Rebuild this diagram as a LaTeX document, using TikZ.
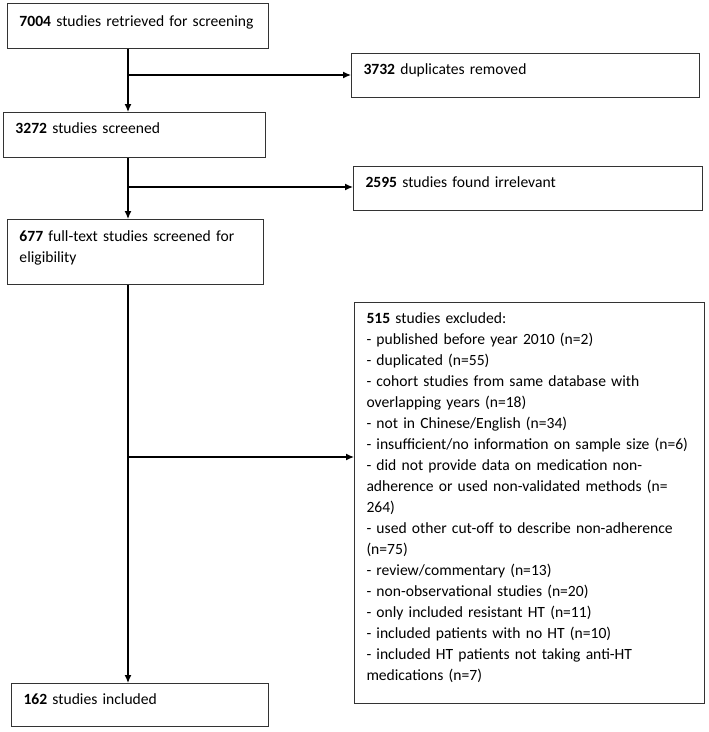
\documentclass[tikz,border=0pt]{standalone}
\usepackage{fontspec}
\setmainfont{Carlito}
\usetikzlibrary{arrows.meta}

\tikzset{
  stage/.style={draw=black!80, line width=1pt, anchor=north west, align=left,
    inner xsep=12pt, inner ysep=10pt, text height=11pt,
    font=\fontsize{15.6}{21}\selectfont},
  flow/.style={line width=1.3pt, -{Latex[length=8pt,width=7pt]}}
}

\begin{document}
\begin{tikzpicture}[x=1pt,y=-1pt]

\useasboundingbox (0,0) rectangle (709,732);

% Main stages
\node[stage, text width=237pt, text height=13pt, text depth=12pt] (retrieved) at (7,3) {\textbf{7004} studies retrieved for screening};
\node[stage, text width=238pt, text depth=14pt] (screened) at (3,112) {\textbf{3272} studies screened};
\node[stage, text width=232pt, text height=12pt, text depth=33pt] (fulltext) at (7,219) {\textbf{677} full-text studies screened for\\eligibility};
\node[stage, text width=233pt, text depth=12pt] (included) at (11,683) {\textbf{162} studies included};

% Removed at each stage
\node[stage, text width=324pt, text depth=13pt] (duplicates) at (351,53) {\textbf{3732} duplicates removed};
\node[stage, text width=325pt, text depth=13pt] (irrelevant) at (353,166) {\textbf{2595} studies found irrelevant};
\node[stage, text width=326pt, text depth=370pt] (excluded) at (354,302) {\textbf{515} studies excluded:\\
- published before year 2010 (n=2)\\
- duplicated (n=55)\\
- cohort studies from same database with\\
overlapping years (n=18)\\
- not in Chinese/English (n=34)\\
- insufficient/no information on sample size (n=6)\\
- did not provide data on medication non-\\
adherence or used non-validated methods (n=\\
264)\\
- used other cut-off to describe non-adherence\\
(n=75)\\
- review/commentary (n=13)\\
- non-observational studies (n=20)\\
- only included resistant HT (n=11)\\
- included patients with no HT (n=10)\\
- included HT patients not taking anti-HT\\
medications (n=7)};

% Branch points on the trunk
\coordinate (split1) at (128,75);
\coordinate (split2) at (128,187);
\coordinate (split3) at (128,457);

% Connectors
\draw[flow] (retrieved.south -| split1) -- (screened.north -| split1);
\draw[flow] (split1) -- (duplicates.west |- split1);
\draw[flow] (screened.south -| split2) -- (fulltext.north -| split2);
\draw[flow] (split2) -- (irrelevant.west |- split2);
\draw[flow] (fulltext.south -| split3) -- (included.north -| split3);
\draw[flow] (split3) -- (excluded.west |- split3);

\end{tikzpicture}
\end{document}
